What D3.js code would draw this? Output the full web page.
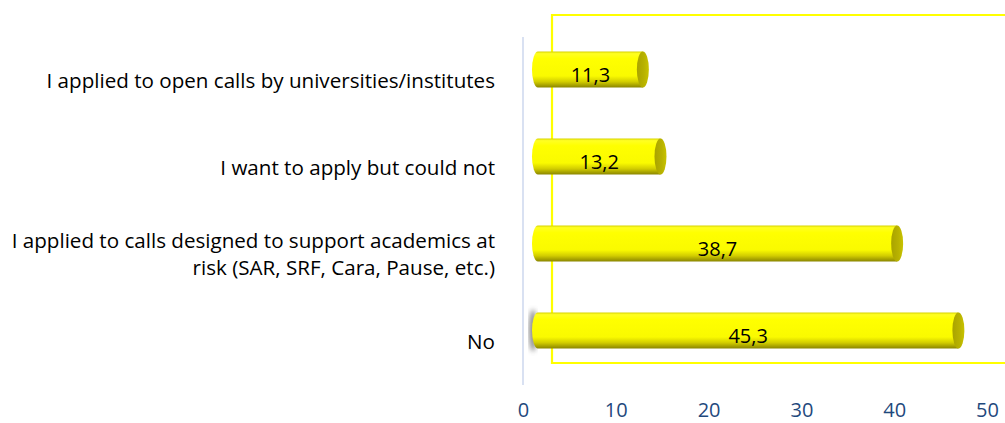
<!DOCTYPE html>
<html>
<head>
<meta charset="utf-8">
<script src="https://cdn.jsdelivr.net/npm/d3@7"></script>
<style>
  html, body { margin: 0; padding: 0; background: #fff; }
  svg { display: block; }
</style>
</head>
<body>
<svg id="chart" width="1005" height="423"></svg>
<script>
// Answers, top to bottom
const categories = [
  ["I applied to open calls by universities/institutes"],
  ["I want to apply but could not"],
  ["I applied to calls designed to support academics at", "risk (SAR, SRF, Cara, Pause, etc.)"],
  ["No"]
];
const values = [11.3, 13.2, 38.7, 45.3];
const valueLabels = ["11,3", "13,2", "38,7", "45,3"];
const tickValues = [0, 10, 20, 30, 40, 50];

const svg = d3.select("#chart");
const font = "'Open Sans', sans-serif";

// Front axis plane
const axisX = 523, axisTop = 37, axisBottom = 385;
// 3D depth offset of back wall and of the bar row
const depth = { dx: 29, dy: -22 };
const barShift = { dx: 15, dy: -11 };

const x = d3.scaleLinear().domain([0, 50]).range([axisX, axisX + 464]);
const y = d3.scaleBand().domain(d3.range(categories.length))
  .range([axisTop, axisBottom]).paddingInner(0.58).paddingOuter(0.29);

const defs = svg.append("defs");
const grad = defs.append("linearGradient").attr("id", "cyl")
  .attr("x1", 0).attr("y1", 0).attr("x2", 0).attr("y2", 1);
[[0, "#d8d400"], [0.06, "#ffff22"], [0.2, "#ffff00"], [0.68, "#fafa00"],
 [0.84, "#d2cd00"], [1, "#8a8500"]].forEach(([o, c]) =>
  grad.append("stop").attr("offset", o).attr("stop-color", c));
const capGrad = defs.append("linearGradient").attr("id", "cap")
  .attr("x1", 0).attr("y1", 0).attr("x2", 1).attr("y2", 0);
[[0, "#a9a300"], [0.6, "#b8b200"], [1, "#c9c300"]].forEach(([o, c]) =>
  capGrad.append("stop").attr("offset", o).attr("stop-color", c));
defs.append("filter").attr("id", "blur").append("feGaussianBlur").attr("stdDeviation", 2.5);

// Back wall outline
svg.append("path")
  .attr("d", `M${1006},${axisTop + depth.dy} H${axisX + depth.dx} V${axisBottom + depth.dy} H${1006}`)
  .attr("fill", "none").attr("stroke", "#ffff00").attr("stroke-width", 2.2);

// Front value axis line
svg.append("line")
  .attr("x1", axisX).attr("x2", axisX).attr("y1", axisTop).attr("y2", axisBottom)
  .attr("stroke", "#d9e1f2").attr("stroke-width", 2);

// Tick labels
const xAxis = d3.axisBottom(x).tickValues(tickValues).tickSize(0).tickPadding(0);
const gx = svg.append("g").attr("transform", `translate(0,${axisBottom + 32})`).call(xAxis);
gx.select(".domain").remove();
gx.selectAll("text")
  .attr("dy", 0)
  .attr("fill", "#1f497d")
  .style("font-family", font).style("font-size", "20px");

// Category labels
const labels = svg.append("g");
categories.forEach((lines, i) => {
  const cy = y(i) + y.bandwidth() / 2;
  const t = labels.append("text")
    .attr("text-anchor", "end")
    .attr("fill", "#000")
    .style("font-family", font).style("font-size", "20.6px");
  const lh = 27;
  lines.forEach((ln, j) => {
    t.append("tspan").attr("x", 495)
      .attr("y", cy + (j - (lines.length - 1) / 2) * lh)
      .attr("dy", "0.35em").text(ln);
  });
});

// Cylinder bars
const capRx = 6;
const bars = svg.append("g");
values.forEach((v, i) => {
  const h = 36;
  const top = y(i) + y.bandwidth() / 2 - h / 2 + barShift.dy;
  const x0 = x(0) + barShift.dx - capRx;
  const x1 = x(v) + barShift.dx;
  const g = bars.append("g");
  if (i === values.length - 1) {
    g.append("ellipse")
      .attr("cx", x0 + 1).attr("cy", top + h / 2).attr("rx", 4).attr("ry", h / 2 + 3)
      .attr("fill", "#666").attr("opacity", 0.75).attr("filter", "url(#blur)");
  }
  g.append("path")
    .attr("d", `M${x0 + capRx},${top} H${x1} V${top + h} H${x0 + capRx}
      A${capRx},${h / 2} 0 0 1 ${x0 + capRx},${top} Z`)
    .attr("fill", "url(#cyl)");
  g.append("ellipse")
    .attr("cx", x1).attr("cy", top + h / 2).attr("rx", capRx).attr("ry", h / 2)
    .attr("fill", "url(#cap)");
  g.append("text")
    .attr("x", (x0 + x1 + capRx) / 2).attr("y", top + h / 2 + 5)
    .attr("text-anchor", "middle").attr("dy", "0.35em")
    .attr("fill", "#000")
    .style("font-family", font).style("font-size", "20px")
    .text(valueLabels[i]);
});
</script>
</body>
</html>
